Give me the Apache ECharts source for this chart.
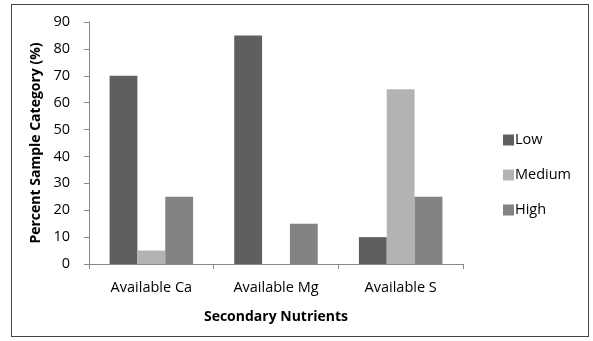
<!DOCTYPE html>
<html><head><meta charset="utf-8">
<script src="https://cdn.jsdelivr.net/npm/echarts@6/dist/echarts.min.js"></script>
<style>html,body{margin:0;padding:0;background:#fff}#c{width:593px;height:341px}
#frame{position:absolute;left:11px;top:4px;width:578px;height:333px;border:1px solid #444;box-sizing:border-box;pointer-events:none}</style>
</head><body><div id="c"></div><div id="frame"></div>
<script>
var categories = ['Available Ca', 'Available Mg', 'Available S'];
var lowValues = [70, 85, 10];
var mediumValues = [5, 0, 65];
var highValues = [25, 15, 25];
var seriesNames = ['Low', 'Medium', 'High'];
var yTicks = [0, 10, 20, 30, 40, 50, 60, 70, 80, 90];

var font = 'Open Sans';
var chart = echarts.init(document.getElementById('c'), null, {renderer: 'canvas'});
var colors = ['#5f5f5f', '#b3b3b3', '#838383'];
var data = [lowValues, mediumValues, highValues];
chart.setOption({
  animation: false,
  textStyle: {fontFamily: font},
  grid: {left: 89, top: 22, right: 130, bottom: 77},
  legend: {
    orient: 'vertical', left: 498, top: 125, itemWidth: 11, itemHeight: 11, itemGap: 15,
    icon: 'rect',
    textStyle: {fontFamily: font, fontSize: 14.5, color: '#000', padding: [0, 0, 0, -4], lineHeight: 20},
    data: seriesNames
  },
  xAxis: {
    type: 'category', data: categories,
    name: 'Secondary Nutrients', nameLocation: 'middle', nameGap: 46,
    nameTextStyle: {fontFamily: font, fontWeight: 'bold', fontSize: 14, color: '#000'},
    axisLine: {lineStyle: {color: '#888', width: 1}},
    axisTick: {show: true, length: 5, lineStyle: {color: '#888'}},
    axisLabel: {fontFamily: font, fontSize: 14.5, color: '#000', margin: 16}
  },
  yAxis: {
    type: 'value', min: 0, max: 90, interval: 10,
    name: 'Percent Sample Category (%)', nameLocation: 'middle', nameGap: 44,
    nameTextStyle: {fontFamily: font, fontWeight: 'bold', fontSize: 14, color: '#000'},
    axisLine: {show: true, lineStyle: {color: '#888', width: 1}},
    axisTick: {show: true, length: 5, inside: false, lineStyle: {color: '#888'}},
    splitLine: {show: false},
    axisLabel: {fontFamily: font, fontSize: 14.5, color: '#000', margin: 19,
      formatter: function (v) { return yTicks.indexOf(v) >= 0 ? String(v) : ''; }}
  },
  series: seriesNames.map(function (n, i) {
    return {
      name: n, type: 'bar', data: data[i], barGap: '0%', barCategoryGap: '33%',
      itemStyle: {color: colors[i]}
    };
  })
});
</script></body></html>
